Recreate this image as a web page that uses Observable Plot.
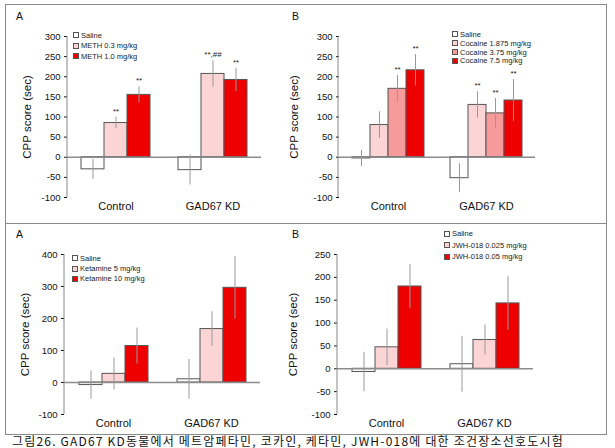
<!DOCTYPE html>
<html>
<head>
<meta charset="utf-8">
<script src="https://cdn.jsdelivr.net/npm/d3@7"></script>
<script src="https://cdn.jsdelivr.net/npm/@observablehq/plot@0.6"></script>
<style>
  html, body { margin: 0; padding: 0; background: #fff; overflow: hidden; }
  body { width: 615px; height: 448px; position: relative; font-family: "Liberation Sans", Arial, sans-serif; }
  .box { position: absolute; border: 1.5px solid #8a8a8a; box-sizing: border-box; }
  .panel { position: absolute; }
  .letter { position: absolute; font-size: 10.5px; color: #111; }
  .legend { position: absolute; font-size: 7.5px; color: #222; }
  .legend .row { display: flex; align-items: center; white-space: nowrap; }
  .legend .sw { width: 6px; height: 6px; border: 1px solid #555; box-sizing: border-box; margin-right: 2px; }
  .caption { position: absolute; left: 12px; top: 435px; font-size: 12px; line-height: 12px; letter-spacing: 1.2px; white-space: nowrap; font-family: "Noto Sans CJK KR", "Liberation Sans", sans-serif; color: #111; }
  svg [aria-label="y-axis label"] { font-size: 11.5px; }
  svg [aria-label="fx-axis tick label"] { font-size: 11px; }
  svg [aria-label="y-axis tick"] { stroke: #888; }
</style>
</head>
<body>
<div class="box" style="left:5px; top:4px; width:602px; height:220px;"></div>
<div class="box" style="left:5px; top:222.5px; width:602px; height:212px;"></div>
<div class="caption">그림26. GAD67 KD동물에서 메트암페타민, 코카인, 케타민, JWH-018에 대한 조건장소선호도시험</div>
<script>
// ---------- data ----------
const groups = ["Control", "GAD67 KD"];

const methSeries = ["Saline", "METH 0.3 mg/kg", "METH 1.0 mg/kg"];
const methColors = ["#ffffff", "#fbd5d5", "#ee0000"];
const methControl = [-30, 85, 155];
const methControlErr = [25, 14, 20];
const methKD = [-32, 207, 192];
const methKDErr = [37, 33, 29];
const methSigControl = ["", "**", "**"];
const methSigKD = ["", "**,##", "**"];

const cocSeries = ["Saline", "Cocaine 1.875 mg/kg", "Cocaine 3.75 mg/kg", "Cocaine 7.5 mg/kg"];
const cocColors = ["#ffffff", "#fbd5d5", "#f59b9b", "#ee0000"];
const cocControl = [-3, 80, 170, 216];
const cocControlErr = [20, 33, 33, 39];
const cocKD = [-52, 130, 109, 141];
const cocKDErr = [36, 33, 37, 52];
const cocSigControl = ["", "", "**", "**"];
const cocSigKD = ["", "**", "**", "**"];

const ketSeries = ["Saline", "Ketamine 5 mg/kg", "Ketamine 10 mg/kg"];
const ketColors = ["#ffffff", "#fbd5d5", "#ee0000"];
const ketControl = [-8, 27, 114];
const ketControlErr = [44, 50, 56];
const ketKD = [10, 167, 296];
const ketKDErr = [62, 54, 98];

const jwhSeries = ["Saline", "JWH-018 0.025 mg/kg", "JWH-018 0.05 mg/kg"];
const jwhColors = ["#ffffff", "#fbd5d5", "#ee0000"];
const jwhControl = [-7, 47, 180];
const jwhControlErr = [43, 40, 48];
const jwhKD = [10, 63, 143];
const jwhKDErr = [61, 33, 59];

const yTicksTop = [-100, -50, 0, 50, 100, 150, 200, 250, 300];
const yTicksKet = [-100, 0, 100, 200, 300, 400];
const yTicksJwh = [-100, -50, 0, 50, 100, 150, 200, 250];

// ---------- helpers ----------
function rows(series, ctrl, ctrlErr, kd, kdErr, sigC, sigK) {
  const out = [];
  series.forEach((s, i) => out.push({group: groups[0], series: s, mean: ctrl[i], err: ctrlErr[i], sig: sigC ? sigC[i] : ""}));
  series.forEach((s, i) => out.push({group: groups[1], series: s, mean: kd[i], err: kdErr[i], sig: sigK ? sigK[i] : ""}));
  return out;
}

function panel({data, series, colors, domain, ticks, left, top, width, height, margins, padOuter, labelOffset}) {
  const chart = Plot.plot({
    width, height,
    marginLeft: margins[0], marginRight: margins[1], marginTop: margins[2], marginBottom: margins[3],
    style: {fontFamily: "Liberation Sans, Arial, sans-serif", fontSize: "9.5px", color: "#111", background: "transparent"},
    fx: {domain: groups, padding: 0, label: null, axis: "bottom", tickSize: 0, tickPadding: 5},
    x: {domain: series, paddingInner: 0, paddingOuter: padOuter, axis: null},
    y: {domain, ticks, tickSize: 3, tickPadding: 4, tickFormat: d => String(d), label: "CPP score (sec)", labelAnchor: "center", labelArrow: "none", labelOffset},
    color: {domain: series, range: colors},
    marks: [
      Plot.barY(data, {fx: "group", x: "series", y: "mean", fill: "series", stroke: "#555", strokeWidth: 1}),
      Plot.ruleY([0], {stroke: "#8c8c8c", strokeWidth: 1.5}),
      Plot.ruleX(data, {fx: "group", x: "series", y1: d => d.mean - d.err, y2: d => d.mean + d.err, stroke: "#999", strokeWidth: 1}),
      Plot.text(data.filter(d => d.sig), {fx: "group", x: "series", y: d => d.mean + d.err, text: "sig", dy: -6, fontSize: 8, fill: "#222"})
    ]
  });
  // y-axis line along the left edge of the frame, from the y scale's range
  const yScale = chart.scale("y");
  const [r0, r1] = yScale.range;
  d3.select(chart).append("line")
    .attr("x1", margins[0]).attr("x2", margins[0])
    .attr("y1", r0).attr("y2", r1)
    .attr("stroke", "#888").attr("stroke-width", 1);
  chart.classList.add("panel");
  chart.style.left = left + "px";
  chart.style.top = top + "px";
  document.body.appendChild(chart);
}

function legend(series, colors, left, top, rowH) {
  const div = document.createElement("div");
  div.className = "legend";
  div.style.left = left + "px";
  div.style.top = top + "px";
  series.forEach((s, i) => {
    const r = document.createElement("div");
    r.className = "row";
    r.style.height = rowH + "px";
    const sw = document.createElement("span");
    sw.className = "sw";
    sw.style.background = colors[i];
    r.appendChild(sw);
    r.appendChild(document.createTextNode(s));
    div.appendChild(r);
  });
  document.body.appendChild(div);
}

function letter(t, left, top) {
  const d = document.createElement("div");
  d.className = "letter";
  d.textContent = t;
  d.style.left = left + "px";
  d.style.top = top + "px";
  document.body.appendChild(d);
}

// ---------- panels ----------
panel({data: rows(methSeries, methControl, methControlErr, methKD, methKDErr, methSigControl, methSigKD),
  series: methSeries, colors: methColors, domain: [-100, 300], ticks: yTicksTop,
  left: 5, top: 4, width: 275, height: 219, margins: [62, 19, 32, 26], padOuter: 0.58, labelOffset: 45});
panel({data: rows(cocSeries, cocControl, cocControlErr, cocKD, cocKDErr, cocSigControl, cocSigKD),
  series: cocSeries, colors: cocColors, domain: [-100, 300], ticks: yTicksTop,
  left: 280, top: 4, width: 325, height: 219, margins: [58, 70, 32, 26], padOuter: 0.63, labelOffset: 50});
panel({data: rows(ketSeries, ketControl, ketControlErr, ketKD, ketKDErr),
  series: ketSeries, colors: ketColors, domain: [-100, 400], ticks: yTicksKet,
  left: 5, top: 223, width: 275, height: 219, margins: [59, 20, 31, 28], padOuter: 0.63, labelOffset: 44});
panel({data: rows(jwhSeries, jwhControl, jwhControlErr, jwhKD, jwhKDErr),
  series: jwhSeries, colors: jwhColors, domain: [-100, 250], ticks: yTicksJwh,
  left: 280, top: 223, width: 325, height: 219, margins: [57, 72, 31, 28], padOuter: 0.63, labelOffset: 49});

legend(methSeries, methColors, 73, 30, 10.5);
legend(cocSeries, cocColors, 452, 30, 8.8);
legend(ketSeries, ketColors, 72, 253, 10.4);
legend(jwhSeries, jwhColors, 444, 228, 11.6);

letter("A", 16, 10);
letter("B", 292, 10);
letter("A", 16, 228);
letter("B", 292, 228);
</script>
</body>
</html>
